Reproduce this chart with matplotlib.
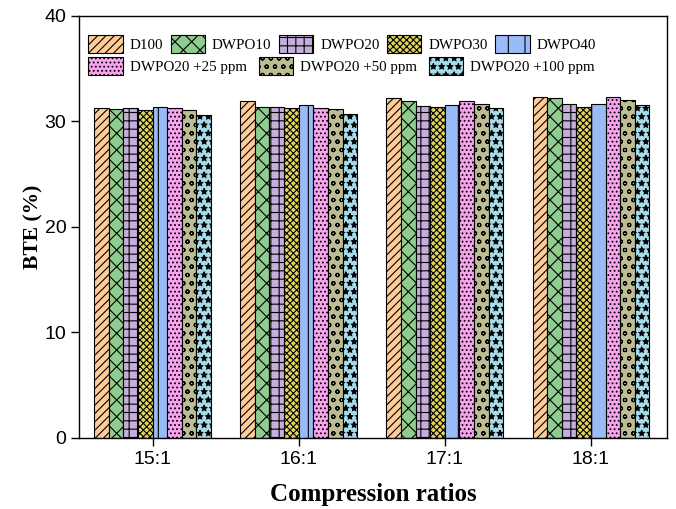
import numpy as np
import matplotlib
matplotlib.use("Agg")
from matplotlib import pyplot as plt

plt.rcParams['hatch.linewidth'] = 0.8

ratios = ["15:1", "16:1", "17:1", "18:1"]
fuels = ["D100", "DWPO10", "DWPO20", "DWPO30", "DWPO40",
         "DWPO20 +25 ppm", "DWPO20 +50 ppm", "DWPO20 +100 ppm"]

# BTE (%) per fuel, one value per compression ratio
d100 = [31.25, 31.88, 32.20, 32.35]
dwpo10 = [31.15, 31.35, 31.94, 32.20]
dwpo20 = [31.30, 31.35, 31.47, 31.66]
dwpo30 = [31.10, 31.25, 31.37, 31.37]
dwpo40 = [31.37, 31.56, 31.50, 31.63]
dwpo20_25 = [31.25, 31.25, 31.94, 32.35]
dwpo20_50 = [31.06, 31.18, 31.63, 32.04]
dwpo20_100 = [30.60, 30.68, 31.25, 31.50]

valores = [d100, dwpo10, dwpo20, dwpo30, dwpo40, dwpo20_25, dwpo20_50, dwpo20_100]
colores = ['#FFCC99', '#8FCC8F', '#C4AEDA', '#E2D35A', '#99BBF7',
           '#F7A3EE', '#BDBD94', '#A6DCEA']
tramas = ['////', 'xx', '++', 'xxxxx', '|', '....', 'oo', '**']

fig = plt.figure(figsize=(6.76, 5.09), dpi=100)
ax = fig.add_axes([0.1176, 0.1395, 0.869, 0.8295])

x = np.arange(len(ratios))
ancho = 0.1
barras = []
for i, (v, c, h) in enumerate(zip(valores, colores, tramas)):
    b = ax.bar(x + (i - 3.5) * ancho, v, ancho, color=c, hatch=h,
               edgecolor='black', linewidth=0.8, label=fuels[i])
    barras.append(b)

ax.set_xlim(-0.5, 3.52)
ax.set_ylim(0, 40)
ax.set_yticks([0, 10, 20, 30, 40])
ax.set_xticks(x)
ax.set_xticklabels(ratios)
ax.tick_params(direction='out', length=6, width=1, labelsize=14)
for lab in ax.get_xticklabels() + ax.get_yticklabels():
    lab.set_family('Liberation Sans')
for s in ax.spines.values():
    s.set_linewidth(1)

ax.set_ylabel("BTE (%)", family='Liberation Serif', fontweight='bold',
              fontsize=15.5, labelpad=1)
ax.set_xlabel("Compression ratios", family='Liberation Serif', fontweight='bold',
              fontsize=18, labelpad=11)

# two legends so the rows keep their own spacing, like the original
prop = {'family': 'Liberation Serif', 'size': 10.8}
opts = dict(frameon=False, prop=prop, loc='upper left',
            handlelength=2.3, handleheight=1.45, handletextpad=0.45,
            borderaxespad=0, borderpad=0)
leg1 = ax.legend(barras[:5], fuels[:5], ncol=5, columnspacing=0.5,
                 bbox_to_anchor=(0.015, 0.954), **opts)
ax.add_artist(leg1)
ax.legend(barras[5:], fuels[5:], ncol=3, columnspacing=0.8,
          bbox_to_anchor=(0.015, 0.903), **opts)

fig.savefig("out.png", dpi=100)
